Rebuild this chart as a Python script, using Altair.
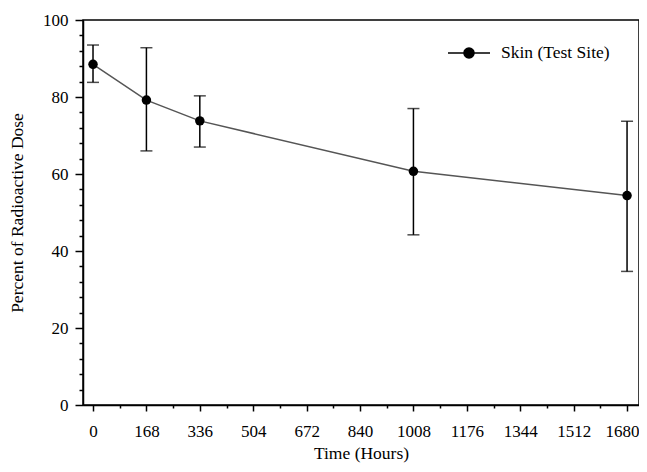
import altair as alt
import pandas as pd

hours = [0, 168, 336, 1008, 1680]
mean = [88.5, 79.2, 73.8, 60.7, 54.4]
lower = [83.8, 66.0, 67.0, 44.2, 34.7]
upper = [93.5, 92.8, 80.3, 77.0, 73.7]
series = "Skin (Test Site)"

x_ticks = list(range(0, 1681, 84))
y_ticks = list(range(0, 101, 4))

df = pd.DataFrame({"t": hours, "m": mean, "lo": lower, "hi": upper, "s": [series] * len(hours)})

FONT = "Liberation Serif"

xscale = alt.Scale(domain=[-31.5, 1717.6], nice=False, zero=False)
yscale = alt.Scale(domain=[0, 100], nice=False)

xaxis = alt.Axis(
    title="Time (Hours)", values=x_ticks, grid=False,
    labelExpr="datum.value % 168 === 0 ? datum.label : ''",
    labelFontSize={"condition": {"test": "datum.value % 168 === 0", "value": 17}, "value": 0},
    labelOffset={"condition": {"test": "datum.value === 1680", "value": -5}, "value": 0},
    tickSize={"condition": {"test": "datum.value % 168 === 0", "value": 6}, "value": 3},
    labelPadding=12, titlePadding=5, format="d",
    labelOverlap=False, labelFlush=False,
)
yaxis = alt.Axis(
    title="Percent of Radioactive Dose", values=y_ticks, grid=False,
    labelExpr="datum.value % 20 === 0 ? datum.label : ''",
    labelFontSize={"condition": {"test": "datum.value % 20 === 0", "value": 17}, "value": 0},
    tickSize={"condition": {"test": "datum.value % 20 === 0", "value": 8}, "value": 4},
    labelPadding=7, titlePadding=16, format="d",
    labelOverlap=False, labelFlush=False,
)

X = alt.X("t:Q", scale=xscale, axis=xaxis)

base = alt.Chart(df)

line = base.mark_line(color="#555555", strokeWidth=1.5).encode(
    x=X, y=alt.Y("m:Q", scale=yscale, axis=yaxis),
)
rule = base.mark_rule(color="black", strokeWidth=1.5).encode(
    x=X, y=alt.Y("lo:Q", scale=yscale, axis=yaxis), y2="hi:Q"
)
cap_lo = base.mark_tick(color="black", thickness=1.5, size=12, orient="horizontal").encode(
    x=X, y=alt.Y("lo:Q", scale=yscale, axis=yaxis)
)
cap_hi = base.mark_tick(color="black", thickness=1.5, size=12, orient="horizontal").encode(
    x=X, y=alt.Y("hi:Q", scale=yscale, axis=yaxis)
)
legend_path = "M-1,0H1M0.24,0A0.24,0.24 0 1,1 -0.24,0A0.24,0.24 0 1,1 0.24,0Z"
points = base.mark_point(filled=True, size=90, opacity=1).encode(
    x=X, y=alt.Y("m:Q", scale=yscale, axis=yaxis),
    color=alt.Color("s:N", scale=alt.Scale(domain=[series], range=["black"]),
                    legend=alt.Legend(title=None, orient="none", legendX=364, legendY=11,
                                      symbolType=legend_path, symbolSize=1764,
                                      symbolStrokeColor="black", symbolStrokeWidth=1.5,
                                      symbolFillColor="black", symbolOpacity=1,
                                      labelFont=FONT, labelFontSize=17.5, labelColor="black",
                                      labelOffset=10)),
)

chart = alt.layer(line, rule, cap_lo, cap_hi, points).properties(
    width=556, height=385,
    autosize=alt.AutoSizeParams(type="none"),
    padding={"left": 75, "top": 12, "right": 0, "bottom": 59},
).configure_view(
    stroke="black", strokeWidth=1.5
).configure_axis(
    domainColor="black", domainWidth=1.5, tickColor="black", tickWidth=1.5,
    labelFont=FONT, labelColor="black", labelOverlap=False,
    titleFont=FONT, titleFontSize=17.5, titleFontWeight="normal", titleColor="black",
)

chart.save("out.html", embed_options={"renderer": "svg", "actions": False})
